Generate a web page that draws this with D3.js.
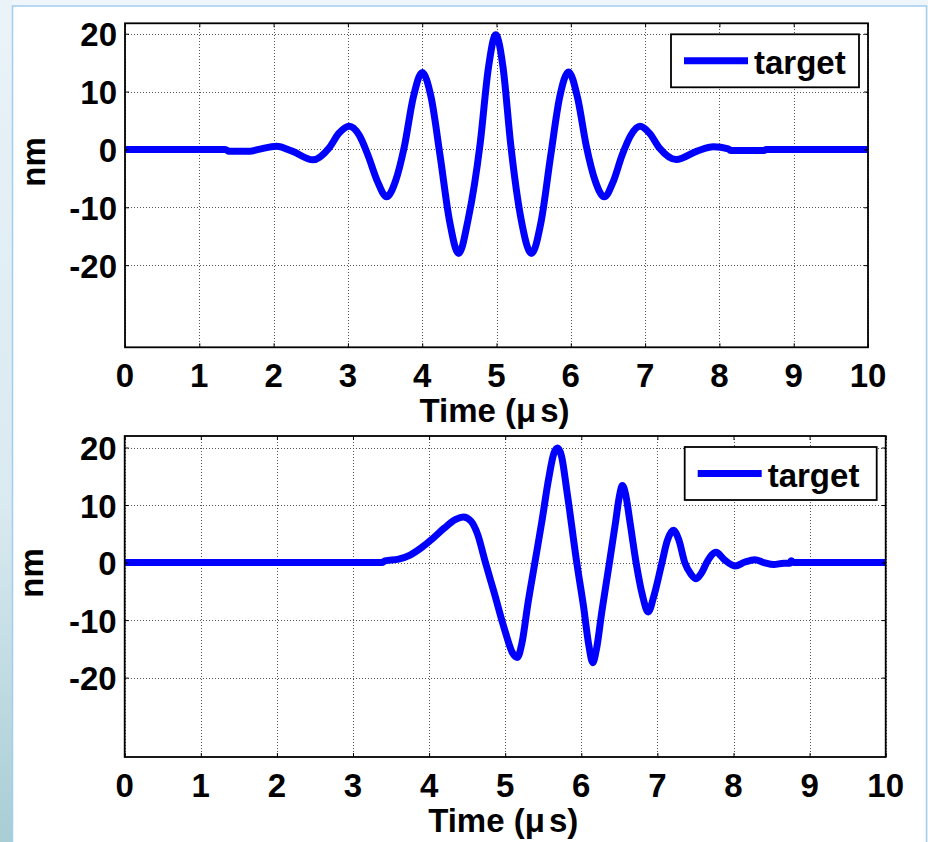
<!DOCTYPE html>
<html><head><meta charset="utf-8">
<script src="https://cdn.jsdelivr.net/npm/d3@7"></script>
<style>html,body{margin:0;padding:0;background:#fff;overflow:hidden} svg{display:block}</style>
</head><body>
<svg id="chart" width="928" height="842"></svg>
<script>
// ---- data ----
const xTicks = [0,1,2,3,4,5,6,7,8,9,10];
const yTicks = [-20,-10,0,10,20];
const seriesName = "target";
const xLabelMain = "Time (\u03BC";
const xLabelTail = "s)";
const yLabel = "nm";

const topTime  = [0,1.35,1.40,1.68,1.80,2.04,2.25,2.53,2.75,2.88,3.02,3.15,3.27,3.40,3.52,3.64,3.76,3.88,4.00,4.12,4.24,4.37,4.49,4.62,4.78,4.89,4.99,5.09,5.19,5.33,5.47,5.60,5.73,5.85,5.97,6.09,6.21,6.33,6.45,6.57,6.69,6.81,6.93,7.06,7.19,7.42,7.70,7.92,8.12,8.15,8.60,8.63,10];
const topValue = [0,0,-0.3,-0.3,0,0.55,-0.3,-1.8,0.3,2.8,4.0,2.5,-1.0,-5.6,-8.2,-5.5,0.5,9.0,13.3,9.0,-1.0,-12.5,-18.0,-12.0,1.0,14.0,19.8,14.0,1.0,-12.0,-18.0,-12.5,-1.0,9.0,13.4,9.0,0.5,-5.5,-8.2,-5.6,-1.0,2.5,4.0,2.8,0.3,-1.75,-0.3,0.45,0.1,-0.2,-0.2,0,0];

const bottomTime  = [0,3.38,3.42,3.60,3.75,3.90,4.05,4.20,4.35,4.45,4.55,4.64,4.73,4.85,5.00,5.10,5.16,5.22,5.30,5.39,5.48,5.57,5.64,5.69,5.74,5.81,5.94,6.03,6.10,6.15,6.20,6.27,6.37,6.45,6.50,6.54,6.58,6.64,6.72,6.80,6.88,6.95,7.06,7.13,7.21,7.28,7.36,7.44,7.51,7.58,7.66,7.77,7.88,8.02,8.15,8.28,8.40,8.53,8.66,8.74,8.76,8.79,10];
const bottomValue = [0,0,0.3,0.6,1.3,2.6,4.2,6.0,7.5,7.9,7.2,4.8,0.5,-5.0,-12.0,-15.8,-16.5,-14.0,-7.0,0,7.0,14.5,19.0,19.9,18.5,12.5,0,-7.7,-14.5,-17.4,-15.0,-8.5,0,7.0,11.5,13.4,12.0,7.0,0,-5.5,-8.6,-6.0,0,3.8,5.6,4.0,0,-2.0,-2.8,-1.8,0.3,1.8,0.5,-0.6,0.1,0.5,0.0,-0.35,-0.1,-0.1,0.3,0,0];

// ---- layout ----
const panels = [
  {time: topTime, value: topValue, left:125, right:868, top:23.3, bottom:347.3,
   yMin:-34.2, yMax:21.8, legendW:188, ylabX:45, ylabY:162},
  {time: bottomTime, value: bottomValue, left:124.7, right:885.7, top:436, bottom:757,
   yMin:-33.8, yMax:22.0, legendW:192, ylabX:43, ylabY:573}
];

const svg = d3.select("#chart");
const FONT = "'Liberation Sans', Arial, sans-serif";
const FS = 33;

// window frame background
const defs = svg.append("defs");
const lg = defs.append("linearGradient").attr("id","leftStrip").attr("x1",0).attr("y1",0).attr("x2",0).attr("y2",1);
lg.append("stop").attr("offset","0%").attr("stop-color","#eaf3f8");
lg.append("stop").attr("offset","60%").attr("stop-color","#d9eaf0");
lg.append("stop").attr("offset","100%").attr("stop-color","#a9cdd5");
svg.append("rect").attr("width",928).attr("height",842).attr("fill","#eef6fb");
svg.append("rect").attr("x",0).attr("y",0).attr("width",12).attr("height",842).attr("fill","url(#leftStrip)");
svg.append("rect").attr("x",12.5).attr("y",6).attr("width",914).attr("height",850)
   .attr("fill","#ffffff").attr("stroke","#a3cdf0").attr("stroke-width",1.5);

panels.forEach(p => {
  const x = d3.scaleLinear().domain([0,10]).range([p.left,p.right]);
  const y = d3.scaleLinear().domain([p.yMin,p.yMax]).range([p.bottom,p.top]);
  const g = svg.append("g");

  // grid (dotted)
  const grid = g.append("g").attr("stroke","#555").attr("stroke-width",1)
     .attr("stroke-dasharray","1,2").attr("fill","none").attr("shape-rendering","crispEdges");
  xTicks.forEach(t => grid.append("line").attr("x1",Math.round(x(t))+0.5).attr("x2",Math.round(x(t))+0.5).attr("y1",p.top).attr("y2",p.bottom));
  yTicks.forEach(t => grid.append("line").attr("y1",Math.round(y(t))+0.5).attr("y2",Math.round(y(t))+0.5).attr("x1",p.left).attr("x2",p.right));

  // series
  const pts = p.time.map((t,i)=>[t,p.value[i]]);
  g.append("path").datum(pts)
    .attr("fill","none").attr("stroke","#0000ff").attr("stroke-width",7)
    .attr("stroke-linejoin","round")
    .attr("d", d3.line().x(d=>x(d[0])).y(d=>y(d[1])).curve(d3.curveMonotoneX));

  // axes with inward ticks on all four sides
  const tl = 4;
  const ax = g.append("g");
  ax.append("g").attr("transform",`translate(0,${p.bottom})`)
    .call(d3.axisBottom(x).tickValues(xTicks).tickSize(-tl).tickFormat(""));
  ax.append("g").attr("transform",`translate(0,${p.top})`)
    .call(d3.axisTop(x).tickValues(xTicks).tickSize(-tl).tickFormat(""));
  ax.append("g").attr("transform",`translate(${p.left},0)`)
    .call(d3.axisLeft(y).tickValues(yTicks).tickSize(-tl).tickFormat(""));
  ax.append("g").attr("transform",`translate(${p.right},0)`)
    .call(d3.axisRight(y).tickValues(yTicks).tickSize(-tl).tickFormat(""));
  ax.selectAll(".domain").remove();
  ax.selectAll("line").attr("stroke","#000").attr("stroke-width",1);
  g.append("rect").attr("x",p.left).attr("y",p.top).attr("width",p.right-p.left).attr("height",p.bottom-p.top)
    .attr("fill","none").attr("stroke","#000").attr("stroke-width",1.8);

  // tick labels
  g.append("g").selectAll("text").data(xTicks).join("text")
    .attr("x",d=>x(d)).attr("y",p.bottom+39.5).attr("text-anchor","middle")
    .attr("font-family",FONT).attr("font-weight","bold").attr("font-size",FS).text(d=>d);
  g.append("g").selectAll("text").data(yTicks).join("text")
    .attr("x",p.left-8).attr("y",d=>y(d)+12.5).attr("text-anchor","end")
    .attr("font-family",FONT).attr("font-weight","bold").attr("font-size",FS).text(d=>d);

  // axis labels
  const xl = g.append("text").attr("x",(p.left+p.right)/2 - 2).attr("y",p.bottom+75)
    .attr("text-anchor","middle").attr("font-family",FONT).attr("font-weight","bold").attr("font-size",FS);
  xl.append("tspan").text(xLabelMain);
  xl.append("tspan").attr("dx",4).text(xLabelTail);
  g.append("text").attr("transform",`translate(${p.ylabX},${p.ylabY}) rotate(-90)`)
    .attr("text-anchor","middle").attr("font-family",FONT).attr("font-weight","bold").attr("font-size",FS)
    .text(yLabel);

  // legend
  const lx = p.right - 9 - p.legendW, ly = p.top + 11, lh = 53;
  const leg = g.append("g");
  leg.append("rect").attr("x",lx).attr("y",ly).attr("width",p.legendW).attr("height",lh)
    .attr("fill","#fff").attr("stroke","#000").attr("stroke-width",1.8);
  leg.append("line").attr("x1",lx+13).attr("x2",lx+77).attr("y1",ly+lh/2).attr("y2",ly+lh/2)
    .attr("stroke","#0000ff").attr("stroke-width",7);
  leg.append("text").attr("x",lx+83).attr("y",ly+39.5)
    .attr("font-family",FONT).attr("font-weight","bold").attr("font-size",FS).text(seriesName);
});
</script>
</body></html>
